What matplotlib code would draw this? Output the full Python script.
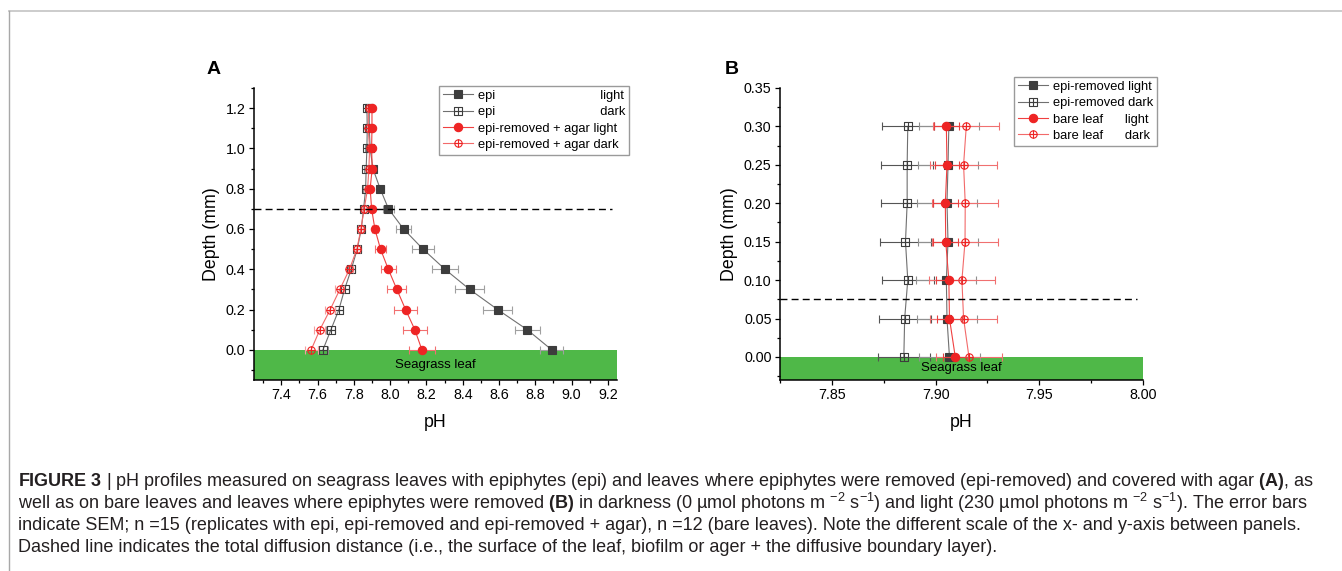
import matplotlib
matplotlib.use("Agg")
import matplotlib.pyplot as plt
from matplotlib.path import Path
from matplotlib.ticker import MultipleLocator
from matplotlib.lines import Line2D

plt.rcParams['font.family'] = ['Liberation Sans', 'DejaVu Sans']
plt.rcParams['mathtext.fontset'] = 'custom'
plt.rcParams['mathtext.rm'] = 'Liberation Sans'
plt.rcParams['mathtext.bf'] = 'Liberation Sans:bold'
plt.rcParams['mathtext.it'] = 'Liberation Sans:italic'

# ---- panel A: epi vs epi-removed + agar ----
depth_a = [0.0, 0.1, 0.2, 0.3, 0.4, 0.5, 0.6, 0.7, 0.8, 0.9, 1.0, 1.1, 1.2]
epi_light = [8.89, 8.755, 8.592, 8.438, 8.302, 8.181, 8.074, 7.991, 7.945, 7.905, 7.890, 7.885, 7.885]
epi_light_sem = [0.064, 0.069, 0.08, 0.08, 0.072, 0.059, 0.039, 0.032, 0.02, 0.015, 0.012, 0.012, 0.012]
epi_dark = [7.63, 7.674, 7.718, 7.749, 7.786, 7.819, 7.841, 7.854, 7.865, 7.868, 7.872, 7.874, 7.872]
epi_dark_sem = [0.025, 0.025, 0.022, 0.022, 0.02, 0.018, 0.016, 0.014, 0.012, 0.012, 0.01, 0.01, 0.01]
agar_light = [8.175, 8.136, 8.085, 8.037, 7.99, 7.947, 7.916, 7.898, 7.89, 7.901, 7.898, 7.9, 7.9]
agar_light_sem = [0.073, 0.066, 0.062, 0.052, 0.04, 0.03, 0.015, 0.01, 0.01, 0.01, 0.008, 0.008, 0.008]
agar_dark = [7.565, 7.613, 7.67, 7.723, 7.776, 7.817, 7.839, 7.857, 7.876, 7.883, 7.887, 7.879, 7.881]
agar_dark_sem = [0.035, 0.03, 0.028, 0.025, 0.02, 0.016, 0.014, 0.012, 0.01, 0.01, 0.008, 0.008, 0.008]
dbl_a = 0.7

# ---- panel B: epi-removed vs bare leaf ----
depth_b = [0.0, 0.05, 0.10, 0.15, 0.20, 0.25, 0.30]
rem_light = [7.9067, 7.9055, 7.9052, 7.906, 7.9055, 7.906, 7.9064]
rem_light_sem = [0.0145] * 7
rem_dark = [7.8847, 7.8851, 7.8866, 7.8855, 7.8863, 7.8863, 7.8866]
rem_dark_sem = [0.0125] * 7
bare_light = [7.9095, 7.9067, 7.9064, 7.9049, 7.9047, 7.9055, 7.9052]
bare_light_sem = [0.006] * 7
bare_dark = [7.9161, 7.9135, 7.9127, 7.9142, 7.9143, 7.9135, 7.9148]
bare_dark_sem = [0.016] * 7
dbl_b = 0.075

caption = [
    r"$\mathbf{FIGURE\ 3}$ | pH profiles measured on seagrass leaves with epiphytes (epi) and leaves where epiphytes were removed (epi-removed) and covered with agar $\mathbf{(A)}$, as",
    r"well as on bare leaves and leaves where epiphytes were removed $\mathbf{(B)}$ in darkness (0 µmol photons m $^{-2}$ s$^{-1}$) and light (230 µmol photons m $^{-2}$ s$^{-1}$). The error bars",
    "indicate SEM; n =15 (replicates with epi, epi-removed and epi-removed + agar), n =12 (bare leaves). Note the different scale of the x- and y-axis between panels.",
    "Dashed line indicates the total diffusion distance (i.e., the surface of the leaf, biofilm or ager + the diffusive boundary layer).",
]

# square with a cross and circle with a cross (open markers)
sq_cross = Path([(-1, -1), (1, -1), (1, 1), (-1, 1), (-1, -1), (0, -1), (0, 1), (-1, 0), (1, 0)],
                [Path.MOVETO, Path.LINETO, Path.LINETO, Path.LINETO, Path.CLOSEPOLY,
                 Path.MOVETO, Path.LINETO, Path.MOVETO, Path.LINETO])
circ = Path.unit_circle()
cross = Path([(0, -1), (0, 1), (-1, 0), (1, 0)], [Path.MOVETO, Path.LINETO, Path.MOVETO, Path.LINETO])
circ_cross = Path.make_compound_path(circ, cross)

W, H = 1342, 571
fig = plt.figure(figsize=(W / 100, H / 100), dpi=100)

GRAY = '#3d3d3d'
RED = '#ee2424'
GREEN = '#4fb848'


def series(ax, x, y, sem, label, marker, mfc, mec, lc, ec, ms, z):
    ax.errorbar(x, y, xerr=sem, fmt='none', ecolor=ec, elinewidth=0.8,
                capsize=2.8, capthick=0.8, zorder=z)
    ax.plot(x, y, color=lc, lw=0.8, marker=marker, ms=ms, mfc=mfc, mec=mec,
            mew=0.8, label=label, zorder=z + 0.5)


def style(ax, xlim, ylim, xmaj, ymaj):
    ax.set_xlim(*xlim)
    ax.set_ylim(*ylim)
    ax.xaxis.set_major_locator(MultipleLocator(xmaj))
    ax.xaxis.set_minor_locator(MultipleLocator(xmaj / 2))
    ax.yaxis.set_major_locator(MultipleLocator(ymaj))
    ax.yaxis.set_minor_locator(MultipleLocator(ymaj / 2))
    for s in ['top', 'right']:
        ax.spines[s].set_visible(False)
    for s in ['left', 'bottom']:
        ax.spines[s].set_linewidth(1.1)
    ax.tick_params(which='major', direction='out', length=3.6, width=0.9, labelsize=10.3, pad=2.5)
    ax.tick_params(which='minor', direction='out', length=2.4, width=0.9)
    ax.set_xlabel('pH', fontsize=12.8, labelpad=8)
    ax.set_ylabel('Depth (mm)', fontsize=12.8, labelpad=4)
    ax.axhspan(ylim[0], 0, color=GREEN, zorder=1, lw=0)
    ax.text(sum(xlim) / 2, ylim[0] / 2, 'Seagrass leaf', ha='center', va='center',
            fontsize=9.5, zorder=2)


leg_kw = dict(loc='upper right', bbox_transform=fig.transFigure, borderaxespad=0,
              fontsize=9.3, fancybox=False, edgecolor='#9a9a9a', framealpha=1,
              handlelength=2.3, handletextpad=0.4, labelspacing=0.33, borderpad=0.3)

# ---- A ----
axA = fig.add_axes([254 / W, 1 - 380 / H, 363 / W, 292 / H])
xlimA, ylimA = (7.25, 9.25), (-0.15, 1.3)
style(axA, xlimA, ylimA, 0.2, 0.2)
series(axA, epi_light, depth_a, epi_light_sem, 'epi' + ' ' * 29 + 'light', 's',
       GRAY, GRAY, '#707070', '#a0a0a0', 5.3, 3)
series(axA, epi_dark, depth_a, epi_dark_sem, 'epi' + ' ' * 29 + 'dark', sq_cross,
       'none', GRAY, '#707070', '#909090', 5.3, 3)
series(axA, agar_dark, depth_a, agar_dark_sem, 'epi-removed + agar dark', circ_cross,
       'none', RED, '#f26a6a', '#f4a0a0', 5.3, 4)
series(axA, agar_light, depth_a, agar_light_sem, 'epi-removed + agar light', 'o',
       RED, RED, '#f04040', '#f27070', 6, 5)
axA.axhline(dbl_a, xmin=0, xmax=0.986, color='k', lw=1.0, ls=(0, (5, 3)), zorder=6)
h, l = axA.get_legend_handles_labels()
order = [0, 1, 3, 2]
axA.legend([h[i] for i in order], [l[i] for i in order],
           bbox_to_anchor=(629 / W, 1 - 86 / H), **leg_kw)
fig.text(207 / W, 1 - 69 / H, 'A', fontsize=14, fontweight='bold', va='center')

# ---- B ----
axB = fig.add_axes([780 / W, 1 - 380 / H, 363 / W, 292 / H])
xlimB, ylimB = (7.825, 8.0), (-0.03, 0.35)
style(axB, xlimB, ylimB, 0.05, 0.05)
series(axB, rem_dark, depth_b, rem_dark_sem, 'epi-removed dark', sq_cross,
       'none', GRAY, '#707070', '#555555', 5.3, 3)
series(axB, rem_light, depth_b, rem_light_sem, 'epi-removed light', 's',
       GRAY, GRAY, '#707070', '#909090', 5.3, 3)
series(axB, bare_dark, depth_b, bare_dark_sem, 'bare leaf' + ' ' * 6 + 'dark', circ_cross,
       'none', RED, '#f26a6a', '#f07070', 5.3, 4)
series(axB, bare_light, depth_b, bare_light_sem, 'bare leaf' + ' ' * 6 + 'light', 'o',
       RED, RED, '#f04040', '#e84040', 6, 5)
axB.axhline(dbl_b, xmin=0, xmax=0.983, color='k', lw=1.0, ls=(0, (5, 3)), zorder=6)
h, l = axB.get_legend_handles_labels()
order = [1, 0, 3, 2]
axB.legend([h[i] for i in order], [l[i] for i in order],
           bbox_to_anchor=(1157 / W, 1 - 77 / H), **leg_kw)
fig.text(725 / W, 1 - 69 / H, 'B', fontsize=14, fontweight='bold', va='center')

# ---- page frame ----
fig.add_artist(Line2D([9 / W, 1], [1 - 11 / H, 1 - 11 / H], color='#c8c8c8', lw=1.3,
                      transform=fig.transFigure))
fig.add_artist(Line2D([9 / W, 9 / W], [0, 1 - 11 / H], color='#a8a8a8', lw=1.0,
                      transform=fig.transFigure))

# ---- caption, size fitted to the first line's width ----
r = fig.canvas.get_renderer()
t0 = fig.text(18 / W, 0.5, caption[0], fontsize=10)
wpx = t0.get_window_extent(r).width
t0.remove()
fs = 10 * 1300 / wpx
for i, line in enumerate(caption):
    fig.text(18 / W, 1 - (481 + 22 * i) / H, line, fontsize=fs, va='center', color='#231f20')

fig.savefig('out.png', dpi=100)
